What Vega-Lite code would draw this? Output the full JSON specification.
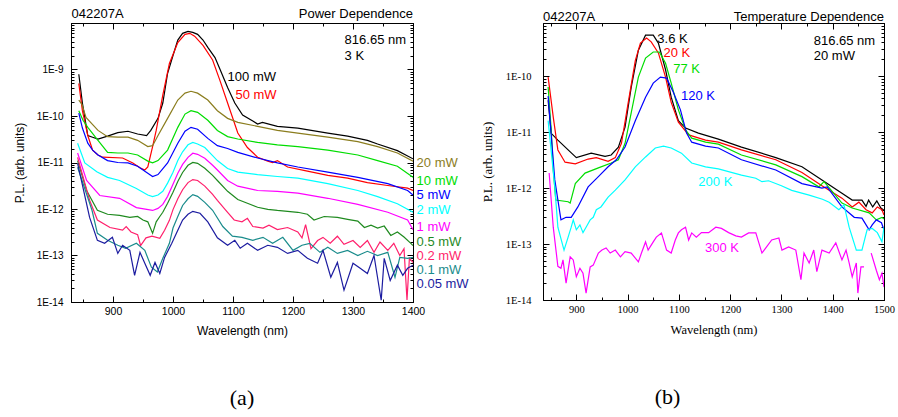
{
"$schema": "https://vega.github.io/schema/vega-lite/v6.json",
"background": "white",
"padding": {"left": 12, "top": 7, "right": 5, "bottom": 5},
"bounds": "flush",
"spacing": 130,
"resolve": {"scale": {"color": "independent"}},
"config": {"view": {"stroke": "black", "strokeWidth": 1}, "axis": {"grid": false, "domainColor": "black", "tickColor": "black", "labelColor": "black", "titleColor": "black", "labelOverlap": false, "labelFlush": false}},
"datasets": {
"pa": [
{"s":"100 mW","x":843,"y":7.9e-10},{"s":"100 mW","x":849,"y":1.9e-10},{"s":"100 mW","x":858,"y":3.8e-11},{"s":"100 mW","x":866,"y":3.5e-11},{"s":"100 mW","x":875,"y":3.2e-11},{"s":"100 mW","x":891,"y":3.7e-11},{"s":"100 mW","x":908,"y":4.4e-11},{"s":"100 mW","x":925,"y":4.7e-11},{"s":"100 mW","x":941,"y":4.1e-11},{"s":"100 mW","x":956,"y":3.8e-11},{"s":"100 mW","x":963,"y":4.9e-11},{"s":"100 mW","x":975,"y":8.9e-11},{"s":"100 mW","x":983,"y":1.9e-10},{"s":"100 mW","x":991,"y":8.3e-10},{"s":"100 mW","x":1000,"y":2.0e-9},{"s":"100 mW","x":1008,"y":4.3e-9},{"s":"100 mW","x":1016,"y":6.0e-9},{"s":"100 mW","x":1025,"y":6.6e-9},{"s":"100 mW","x":1033,"y":6.3e-9},{"s":"100 mW","x":1041,"y":5.7e-9},{"s":"100 mW","x":1050,"y":4.3e-9},{"s":"100 mW","x":1058,"y":3.0e-9},{"s":"100 mW","x":1070,"y":1.8e-9},{"s":"100 mW","x":1079,"y":9.6e-10},{"s":"100 mW","x":1091,"y":4.1e-10},{"s":"100 mW","x":1103,"y":1.9e-10},{"s":"100 mW","x":1116,"y":1.05e-10},{"s":"100 mW","x":1133,"y":7.8e-11},{"s":"100 mW","x":1141,"y":6.7e-11},{"s":"100 mW","x":1149,"y":7.3e-11},{"s":"100 mW","x":1174,"y":6.0e-11},{"s":"100 mW","x":1208,"y":5.5e-11},{"s":"100 mW","x":1258,"y":4.3e-11},{"s":"100 mW","x":1291,"y":3.7e-11},{"s":"100 mW","x":1324,"y":3.0e-11},{"s":"100 mW","x":1341,"y":2.5e-11},{"s":"100 mW","x":1374,"y":1.8e-11},{"s":"100 mW","x":1400,"y":1.2e-11},
{"s":"50 mW","x":843,"y":5.0e-10},{"s":"50 mW","x":849,"y":1.3e-10},{"s":"50 mW","x":858,"y":3.8e-11},{"s":"50 mW","x":866,"y":1.85e-11},{"s":"50 mW","x":875,"y":1.45e-11},{"s":"50 mW","x":883,"y":1.3e-11},{"s":"50 mW","x":916,"y":1.25e-11},{"s":"50 mW","x":933,"y":9.8e-12},{"s":"50 mW","x":945,"y":7.7e-12},{"s":"50 mW","x":953,"y":6.9e-12},{"s":"50 mW","x":958,"y":8.0e-12},{"s":"50 mW","x":966,"y":2.2e-11},{"s":"50 mW","x":972,"y":4.9e-11},{"s":"50 mW","x":983,"y":2.8e-10},{"s":"50 mW","x":994,"y":1.35e-9},{"s":"50 mW","x":1008,"y":3.8e-9},{"s":"50 mW","x":1020,"y":5.7e-9},{"s":"50 mW","x":1028,"y":6.0e-9},{"s":"50 mW","x":1036,"y":5.2e-9},{"s":"50 mW","x":1050,"y":3.3e-9},{"s":"50 mW","x":1066,"y":1.6e-9},{"s":"50 mW","x":1078,"y":5.9e-10},{"s":"50 mW","x":1091,"y":1.9e-10},{"s":"50 mW","x":1108,"y":4.3e-11},{"s":"50 mW","x":1124,"y":2.1e-11},{"s":"50 mW","x":1141,"y":1.3e-11},{"s":"50 mW","x":1158,"y":1.07e-11},{"s":"50 mW","x":1166,"y":1.0e-11},{"s":"50 mW","x":1174,"y":1.1e-11},{"s":"50 mW","x":1191,"y":8.0e-12},{"s":"50 mW","x":1224,"y":6.5e-12},{"s":"50 mW","x":1258,"y":5.3e-12},{"s":"50 mW","x":1291,"y":4.6e-12},{"s":"50 mW","x":1324,"y":3.7e-12},{"s":"50 mW","x":1358,"y":3.2e-12},{"s":"50 mW","x":1391,"y":2.8e-12},{"s":"50 mW","x":1400,"y":2.5e-12},
{"s":"20 mW","x":843,"y":2.2e-10},{"s":"20 mW","x":848,"y":1.8e-10},{"s":"20 mW","x":855,"y":9.3e-11},{"s":"20 mW","x":875,"y":4.9e-11},{"s":"20 mW","x":891,"y":3.6e-11},{"s":"20 mW","x":908,"y":3.5e-11},{"s":"20 mW","x":925,"y":3.5e-11},{"s":"20 mW","x":941,"y":3.0e-11},{"s":"20 mW","x":958,"y":2.2e-11},{"s":"20 mW","x":966,"y":2.3e-11},{"s":"20 mW","x":975,"y":3.8e-11},{"s":"20 mW","x":991,"y":8.9e-11},{"s":"20 mW","x":1008,"y":2.2e-10},{"s":"20 mW","x":1020,"y":3.1e-10},{"s":"20 mW","x":1030,"y":3.4e-10},{"s":"20 mW","x":1041,"y":3.1e-10},{"s":"20 mW","x":1058,"y":2.2e-10},{"s":"20 mW","x":1074,"y":1.3e-10},{"s":"20 mW","x":1091,"y":8.9e-11},{"s":"20 mW","x":1108,"y":7.3e-11},{"s":"20 mW","x":1141,"y":6.0e-11},{"s":"20 mW","x":1174,"y":4.9e-11},{"s":"20 mW","x":1208,"y":4.3e-11},{"s":"20 mW","x":1258,"y":3.5e-11},{"s":"20 mW","x":1308,"y":2.8e-11},{"s":"20 mW","x":1341,"y":2.2e-11},{"s":"20 mW","x":1374,"y":1.6e-11},{"s":"20 mW","x":1400,"y":1.07e-11},
{"s":"10 mW","x":843,"y":1.3e-10},{"s":"10 mW","x":850,"y":8.1e-11},{"s":"10 mW","x":858,"y":5.7e-11},{"s":"10 mW","x":875,"y":3.0e-11},{"s":"10 mW","x":891,"y":1.65e-11},{"s":"10 mW","x":908,"y":1.6e-11},{"s":"10 mW","x":925,"y":1.6e-11},{"s":"10 mW","x":941,"y":1.45e-11},{"s":"10 mW","x":958,"y":1.07e-11},{"s":"10 mW","x":966,"y":9.8e-12},{"s":"10 mW","x":975,"y":1.1e-11},{"s":"10 mW","x":991,"y":1.85e-11},{"s":"10 mW","x":1008,"y":5.7e-11},{"s":"10 mW","x":1020,"y":1.1e-10},{"s":"10 mW","x":1030,"y":1.3e-10},{"s":"10 mW","x":1041,"y":1.2e-10},{"s":"10 mW","x":1058,"y":8.1e-11},{"s":"10 mW","x":1074,"y":4.9e-11},{"s":"10 mW","x":1091,"y":3.6e-11},{"s":"10 mW","x":1108,"y":3.2e-11},{"s":"10 mW","x":1141,"y":2.7e-11},{"s":"10 mW","x":1174,"y":2.4e-11},{"s":"10 mW","x":1208,"y":2.2e-11},{"s":"10 mW","x":1258,"y":1.85e-11},{"s":"10 mW","x":1308,"y":1.45e-11},{"s":"10 mW","x":1341,"y":1.1e-11},{"s":"10 mW","x":1374,"y":8.3e-12},{"s":"10 mW","x":1400,"y":4.8e-12},
{"s":"5 mW","x":843,"y":1.15e-10},{"s":"5 mW","x":849,"y":5.5e-11},{"s":"5 mW","x":858,"y":2.6e-11},{"s":"5 mW","x":866,"y":1.85e-11},{"s":"5 mW","x":875,"y":1.45e-11},{"s":"5 mW","x":891,"y":1.1e-11},{"s":"5 mW","x":908,"y":1.0e-11},{"s":"5 mW","x":925,"y":9.8e-12},{"s":"5 mW","x":941,"y":8.3e-12},{"s":"5 mW","x":958,"y":5.9e-12},{"s":"5 mW","x":966,"y":5.0e-12},{"s":"5 mW","x":975,"y":5.5e-12},{"s":"5 mW","x":991,"y":9.8e-12},{"s":"5 mW","x":1008,"y":2.6e-11},{"s":"5 mW","x":1020,"y":4.7e-11},{"s":"5 mW","x":1030,"y":5.7e-11},{"s":"5 mW","x":1041,"y":5.2e-11},{"s":"5 mW","x":1058,"y":3.3e-11},{"s":"5 mW","x":1074,"y":2.3e-11},{"s":"5 mW","x":1091,"y":2.0e-11},{"s":"5 mW","x":1108,"y":1.65e-11},{"s":"5 mW","x":1141,"y":1.25e-11},{"s":"5 mW","x":1174,"y":9.8e-12},{"s":"5 mW","x":1208,"y":8.0e-12},{"s":"5 mW","x":1258,"y":6.2e-12},{"s":"5 mW","x":1308,"y":4.8e-12},{"s":"5 mW","x":1358,"y":3.5e-12},{"s":"5 mW","x":1391,"y":2.5e-12},{"s":"5 mW","x":1400,"y":2.0e-12},
{"s":"2 mW","x":841,"y":2.6e-11},{"s":"2 mW","x":853,"y":9.8e-12},{"s":"2 mW","x":873,"y":6.3e-12},{"s":"2 mW","x":891,"y":4.8e-12},{"s":"2 mW","x":911,"y":4.1e-12},{"s":"2 mW","x":939,"y":2.75e-12},{"s":"2 mW","x":958,"y":2.0e-12},{"s":"2 mW","x":966,"y":1.85e-12},{"s":"2 mW","x":975,"y":2.0e-12},{"s":"2 mW","x":983,"y":2.4e-12},{"s":"2 mW","x":991,"y":3.6e-12},{"s":"2 mW","x":1000,"y":6.2e-12},{"s":"2 mW","x":1008,"y":1.1e-11},{"s":"2 mW","x":1016,"y":1.7e-11},{"s":"2 mW","x":1025,"y":2.4e-11},{"s":"2 mW","x":1033,"y":2.7e-11},{"s":"2 mW","x":1041,"y":2.5e-11},{"s":"2 mW","x":1053,"y":2.1e-11},{"s":"2 mW","x":1066,"y":1.4e-11},{"s":"2 mW","x":1074,"y":1.1e-11},{"s":"2 mW","x":1091,"y":7.4e-12},{"s":"2 mW","x":1108,"y":6.2e-12},{"s":"2 mW","x":1141,"y":5.5e-12},{"s":"2 mW","x":1174,"y":5.0e-12},{"s":"2 mW","x":1208,"y":4.6e-12},{"s":"2 mW","x":1258,"y":3.5e-12},{"s":"2 mW","x":1308,"y":2.5e-12},{"s":"2 mW","x":1341,"y":1.85e-12},{"s":"2 mW","x":1374,"y":1.3e-12},{"s":"2 mW","x":1400,"y":8.5e-13},
{"s":"1 mW","x":841,"y":1.6e-11},{"s":"1 mW","x":856,"y":4.1e-12},{"s":"1 mW","x":878,"y":1.95e-12},{"s":"1 mW","x":911,"y":1.7e-12},{"s":"1 mW","x":939,"y":1.07e-12},{"s":"1 mW","x":966,"y":9.3e-13},{"s":"1 mW","x":975,"y":1.03e-12},{"s":"1 mW","x":983,"y":1.26e-12},{"s":"1 mW","x":991,"y":1.87e-12},{"s":"1 mW","x":1000,"y":3.4e-12},{"s":"1 mW","x":1008,"y":5.9e-12},{"s":"1 mW","x":1016,"y":9.1e-12},{"s":"1 mW","x":1025,"y":1.29e-11},{"s":"1 mW","x":1033,"y":1.58e-11},{"s":"1 mW","x":1041,"y":1.5e-11},{"s":"1 mW","x":1053,"y":1.23e-11},{"s":"1 mW","x":1066,"y":8.7e-12},{"s":"1 mW","x":1074,"y":6.9e-12},{"s":"1 mW","x":1091,"y":4.1e-12},{"s":"1 mW","x":1108,"y":3.1e-12},{"s":"1 mW","x":1141,"y":2.5e-12},{"s":"1 mW","x":1174,"y":2.4e-12},{"s":"1 mW","x":1208,"y":2.2e-12},{"s":"1 mW","x":1258,"y":1.7e-12},{"s":"1 mW","x":1308,"y":1.26e-12},{"s":"1 mW","x":1358,"y":8.5e-13},{"s":"1 mW","x":1391,"y":5.8e-13},{"s":"1 mW","x":1400,"y":3.6e-13},
{"s":"0.5 mW","x":841,"y":1.1e-11},{"s":"0.5 mW","x":856,"y":2.5e-12},{"s":"0.5 mW","x":874,"y":9.4e-13},{"s":"0.5 mW","x":891,"y":7.7e-13},{"s":"0.5 mW","x":911,"y":7.3e-13},{"s":"0.5 mW","x":928,"y":6.6e-13},{"s":"0.5 mW","x":941,"y":6.9e-13},{"s":"0.5 mW","x":950,"y":5.8e-13},{"s":"0.5 mW","x":958,"y":5.3e-13},{"s":"0.5 mW","x":966,"y":3.0e-13},{"s":"0.5 mW","x":972,"y":5.3e-13},{"s":"0.5 mW","x":978,"y":6.9e-13},{"s":"0.5 mW","x":983,"y":8.5e-13},{"s":"0.5 mW","x":991,"y":1.33e-12},{"s":"0.5 mW","x":1000,"y":2.3e-12},{"s":"0.5 mW","x":1008,"y":3.9e-12},{"s":"0.5 mW","x":1016,"y":6.1e-12},{"s":"0.5 mW","x":1025,"y":8.7e-12},{"s":"0.5 mW","x":1033,"y":1.0e-11},{"s":"0.5 mW","x":1041,"y":9.6e-12},{"s":"0.5 mW","x":1053,"y":7.5e-12},{"s":"0.5 mW","x":1066,"y":5.3e-12},{"s":"0.5 mW","x":1074,"y":4.1e-12},{"s":"0.5 mW","x":1091,"y":2.4e-12},{"s":"0.5 mW","x":1108,"y":1.6e-12},{"s":"0.5 mW","x":1124,"y":1.33e-12},{"s":"0.5 mW","x":1141,"y":1.09e-12},{"s":"0.5 mW","x":1158,"y":9.8e-13},{"s":"0.5 mW","x":1174,"y":9.3e-13},{"s":"0.5 mW","x":1191,"y":8.9e-13},{"s":"0.5 mW","x":1208,"y":8.5e-13},{"s":"0.5 mW","x":1224,"y":7.7e-13},{"s":"0.5 mW","x":1235,"y":5.8e-13},{"s":"0.5 mW","x":1252,"y":6.9e-13},{"s":"0.5 mW","x":1274,"y":6.6e-13},{"s":"0.5 mW","x":1291,"y":6.0e-13},{"s":"0.5 mW","x":1308,"y":5.5e-13},{"s":"0.5 mW","x":1319,"y":4.0e-13},{"s":"0.5 mW","x":1330,"y":4.5e-13},{"s":"0.5 mW","x":1341,"y":3.9e-13},{"s":"0.5 mW","x":1352,"y":4.3e-13},{"s":"0.5 mW","x":1363,"y":2.7e-13},{"s":"0.5 mW","x":1374,"y":3.2e-13},{"s":"0.5 mW","x":1385,"y":2.5e-13},{"s":"0.5 mW","x":1396,"y":1.85e-13},{"s":"0.5 mW","x":1400,"y":1.64e-13},
{"s":"0.2 mW","x":841,"y":1.29e-11},{"s":"0.2 mW","x":861,"y":1.54e-12},{"s":"0.2 mW","x":874,"y":5.8e-13},{"s":"0.2 mW","x":895,"y":4.0e-13},{"s":"0.2 mW","x":916,"y":3.5e-13},{"s":"0.2 mW","x":922,"y":4.2e-13},{"s":"0.2 mW","x":930,"y":3.2e-13},{"s":"0.2 mW","x":941,"y":2.8e-13},{"s":"0.2 mW","x":946,"y":1.64e-13},{"s":"0.2 mW","x":955,"y":2.4e-13},{"s":"0.2 mW","x":965,"y":2.6e-13},{"s":"0.2 mW","x":978,"y":2.34e-13},{"s":"0.2 mW","x":986,"y":3.5e-13},{"s":"0.2 mW","x":994,"y":5.7e-13},{"s":"0.2 mW","x":1000,"y":9.7e-13},{"s":"0.2 mW","x":1008,"y":1.66e-12},{"s":"0.2 mW","x":1016,"y":2.6e-12},{"s":"0.2 mW","x":1025,"y":3.7e-12},{"s":"0.2 mW","x":1033,"y":4.3e-12},{"s":"0.2 mW","x":1041,"y":4.1e-12},{"s":"0.2 mW","x":1053,"y":3.1e-12},{"s":"0.2 mW","x":1066,"y":2.07e-12},{"s":"0.2 mW","x":1074,"y":1.54e-12},{"s":"0.2 mW","x":1091,"y":8.5e-13},{"s":"0.2 mW","x":1102,"y":5.8e-13},{"s":"0.2 mW","x":1115,"y":5.3e-13},{"s":"0.2 mW","x":1124,"y":6.3e-13},{"s":"0.2 mW","x":1133,"y":4.2e-13},{"s":"0.2 mW","x":1150,"y":3.9e-13},{"s":"0.2 mW","x":1160,"y":4.5e-13},{"s":"0.2 mW","x":1174,"y":3.6e-13},{"s":"0.2 mW","x":1191,"y":4.0e-13},{"s":"0.2 mW","x":1208,"y":3.2e-13},{"s":"0.2 mW","x":1215,"y":2.4e-13},{"s":"0.2 mW","x":1221,"y":4.6e-13},{"s":"0.2 mW","x":1230,"y":1.4e-13},{"s":"0.2 mW","x":1241,"y":2.1e-13},{"s":"0.2 mW","x":1250,"y":2.45e-13},{"s":"0.2 mW","x":1262,"y":1.83e-13},{"s":"0.2 mW","x":1274,"y":2.6e-13},{"s":"0.2 mW","x":1285,"y":1.74e-13},{"s":"0.2 mW","x":1300,"y":2.1e-13},{"s":"0.2 mW","x":1312,"y":1.5e-13},{"s":"0.2 mW","x":1324,"y":2.1e-13},{"s":"0.2 mW","x":1335,"y":1.17e-13},{"s":"0.2 mW","x":1345,"y":1.95e-13},{"s":"0.2 mW","x":1358,"y":1.29e-13},{"s":"0.2 mW","x":1368,"y":1.83e-13},{"s":"0.2 mW","x":1378,"y":1.0e-13},{"s":"0.2 mW","x":1385,"y":1.4e-13},{"s":"0.2 mW","x":1390,"y":1.1e-14},{"s":"0.2 mW","x":1394,"y":8.7e-14},{"s":"0.2 mW","x":1400,"y":7.1e-14},
{"s":"0.1 mW","x":841,"y":7.9e-12},{"s":"0.1 mW","x":865,"y":9.4e-13},{"s":"0.1 mW","x":874,"y":3.0e-13},{"s":"0.1 mW","x":891,"y":2.12e-13},{"s":"0.1 mW","x":908,"y":1.66e-13},{"s":"0.1 mW","x":921,"y":1.43e-13},{"s":"0.1 mW","x":939,"y":1.83e-13},{"s":"0.1 mW","x":953,"y":1.29e-13},{"s":"0.1 mW","x":964,"y":5.6e-14},{"s":"0.1 mW","x":974,"y":4.4e-14},{"s":"0.1 mW","x":983,"y":8.7e-14},{"s":"0.1 mW","x":994,"y":1.83e-13},{"s":"0.1 mW","x":1000,"y":3.9e-13},{"s":"0.1 mW","x":1008,"y":6.9e-13},{"s":"0.1 mW","x":1016,"y":1.19e-12},{"s":"0.1 mW","x":1025,"y":1.66e-12},{"s":"0.1 mW","x":1033,"y":2.04e-12},{"s":"0.1 mW","x":1041,"y":1.87e-12},{"s":"0.1 mW","x":1053,"y":1.39e-12},{"s":"0.1 mW","x":1066,"y":9.4e-13},{"s":"0.1 mW","x":1083,"y":4.2e-13},{"s":"0.1 mW","x":1099,"y":2.6e-13},{"s":"0.1 mW","x":1115,"y":2.46e-13},{"s":"0.1 mW","x":1133,"y":2.12e-13},{"s":"0.1 mW","x":1150,"y":2.46e-13},{"s":"0.1 mW","x":1166,"y":1.83e-13},{"s":"0.1 mW","x":1183,"y":2.46e-13},{"s":"0.1 mW","x":1200,"y":1.29e-13},{"s":"0.1 mW","x":1215,"y":1.66e-13},{"s":"0.1 mW","x":1228,"y":1.83e-13},{"s":"0.1 mW","x":1245,"y":1.17e-13},{"s":"0.1 mW","x":1258,"y":1.5e-13},{"s":"0.1 mW","x":1274,"y":1.11e-13},{"s":"0.1 mW","x":1291,"y":1.29e-13},{"s":"0.1 mW","x":1308,"y":1.0e-13},{"s":"0.1 mW","x":1324,"y":1.23e-13},{"s":"0.1 mW","x":1341,"y":1.0e-13},{"s":"0.1 mW","x":1358,"y":1.17e-13},{"s":"0.1 mW","x":1370,"y":3.4e-14},{"s":"0.1 mW","x":1378,"y":9.1e-14},{"s":"0.1 mW","x":1391,"y":8.7e-14},{"s":"0.1 mW","x":1400,"y":9.1e-14},
{"s":"0.05 mW","x":841,"y":9.6e-12},{"s":"0.05 mW","x":861,"y":6.6e-13},{"s":"0.05 mW","x":874,"y":2.12e-13},{"s":"0.05 mW","x":886,"y":1.83e-13},{"s":"0.05 mW","x":899,"y":2.46e-13},{"s":"0.05 mW","x":908,"y":1.11e-13},{"s":"0.05 mW","x":916,"y":1.66e-13},{"s":"0.05 mW","x":928,"y":1.29e-13},{"s":"0.05 mW","x":936,"y":3.75e-14},{"s":"0.05 mW","x":945,"y":1.17e-13},{"s":"0.05 mW","x":953,"y":6.8e-14},{"s":"0.05 mW","x":962,"y":3.75e-14},{"s":"0.05 mW","x":970,"y":7.1e-14},{"s":"0.05 mW","x":978,"y":4.1e-14},{"s":"0.05 mW","x":986,"y":9.1e-14},{"s":"0.05 mW","x":998,"y":1.83e-13},{"s":"0.05 mW","x":1008,"y":3.5e-13},{"s":"0.05 mW","x":1016,"y":5.8e-13},{"s":"0.05 mW","x":1025,"y":7.7e-13},{"s":"0.05 mW","x":1033,"y":8.9e-13},{"s":"0.05 mW","x":1045,"y":8.1e-13},{"s":"0.05 mW","x":1058,"y":5.3e-13},{"s":"0.05 mW","x":1074,"y":2.4e-13},{"s":"0.05 mW","x":1091,"y":1.66e-13},{"s":"0.05 mW","x":1103,"y":2.12e-13},{"s":"0.05 mW","x":1112,"y":1.43e-13},{"s":"0.05 mW","x":1124,"y":1.83e-13},{"s":"0.05 mW","x":1141,"y":1.29e-13},{"s":"0.05 mW","x":1158,"y":1.66e-13},{"s":"0.05 mW","x":1174,"y":1.5e-13},{"s":"0.05 mW","x":1191,"y":1.11e-13},{"s":"0.05 mW","x":1208,"y":1.29e-13},{"s":"0.05 mW","x":1224,"y":8.7e-14},{"s":"0.05 mW","x":1241,"y":6.8e-14},{"s":"0.05 mW","x":1250,"y":1.29e-13},{"s":"0.05 mW","x":1263,"y":3.4e-14},{"s":"0.05 mW","x":1274,"y":7.1e-14},{"s":"0.05 mW","x":1285,"y":1.8e-14},{"s":"0.05 mW","x":1300,"y":6.8e-14},{"s":"0.05 mW","x":1312,"y":5.3e-14},{"s":"0.05 mW","x":1324,"y":4.1e-14},{"s":"0.05 mW","x":1335,"y":1.0e-13},{"s":"0.05 mW","x":1347,"y":1.09e-14},{"s":"0.05 mW","x":1352,"y":8.7e-14},{"s":"0.05 mW","x":1362,"y":2.9e-14},{"s":"0.05 mW","x":1374,"y":6.2e-14},{"s":"0.05 mW","x":1383,"y":3.75e-14},{"s":"0.05 mW","x":1391,"y":5.3e-14},{"s":"0.05 mW","x":1400,"y":6.2e-14}
],
"la": [
{"s":"100 mW","x":1091,"y":6.8e-10},{"s":"50 mW","x":1104,"y":2.8e-10},
{"s":"20 mW","x":1406,"y":9.6e-12},{"s":"10 mW","x":1406,"y":4.1e-12},{"s":"5 mW","x":1406,"y":1.97e-12},{"s":"2 mW","x":1406,"y":9.4e-13},{"s":"1 mW","x":1406,"y":4.2e-13},{"s":"0.5 mW","x":1406,"y":2.0e-13},{"s":"0.2 mW","x":1406,"y":9.6e-14},{"s":"0.1 mW","x":1406,"y":4.8e-14},{"s":"0.05 mW","x":1406,"y":2.4e-14}
],
"na": [{"t":"816.65 nm","x":1286,"y":4.25e-9},{"t":"3 K","x":1286,"y":1.92e-9},{"t":"042207A","x":831,"y":1.54e-8}],
"ra": [{"t":"Power Dependence","x":1400,"y":1.54e-8}],
"pb": [
{"s":"3.6 K","x":845,"y":3.7e-11},{"s":"3.6 K","x":851,"y":9.5e-12},{"s":"3.6 K","x":864,"y":7.2e-12},{"s":"3.6 K","x":884,"y":4.8e-12},{"s":"3.6 K","x":900,"y":3.5e-12},{"s":"3.6 K","x":929,"y":4.2e-12},{"s":"3.6 K","x":956,"y":3.7e-12},{"s":"3.6 K","x":968,"y":3.9e-12},{"s":"3.6 K","x":982,"y":5.4e-12},{"s":"3.6 K","x":995,"y":1.23e-11},{"s":"3.6 K","x":1007,"y":6.3e-11},{"s":"3.6 K","x":1021,"y":2.9e-10},{"s":"3.6 K","x":1035,"y":5.4e-10},{"s":"3.6 K","x":1050,"y":5.4e-10},{"s":"3.6 K","x":1060,"y":3.9e-10},{"s":"3.6 K","x":1074,"y":1.3e-10},{"s":"3.6 K","x":1085,"y":4.2e-11},{"s":"3.6 K","x":1099,"y":1.6e-11},{"s":"3.6 K","x":1113,"y":1.18e-11},{"s":"3.6 K","x":1138,"y":9.6e-12},{"s":"3.6 K","x":1177,"y":7.5e-12},{"s":"3.6 K","x":1222,"y":5.4e-12},{"s":"3.6 K","x":1289,"y":3.5e-12},{"s":"3.6 K","x":1340,"y":2.4e-12},{"s":"3.6 K","x":1379,"y":1.4e-12},{"s":"3.6 K","x":1418,"y":8.1e-13},{"s":"3.6 K","x":1438,"y":6.1e-13},{"s":"3.6 K","x":1457,"y":6.1e-13},{"s":"3.6 K","x":1465,"y":4.7e-13},{"s":"3.6 K","x":1470,"y":6.1e-13},{"s":"3.6 K","x":1478,"y":4.6e-13},{"s":"3.6 K","x":1486,"y":5.9e-13},{"s":"3.6 K","x":1494,"y":4.4e-13},{"s":"3.6 K","x":1500,"y":4.0e-13},
{"s":"20 K","x":845,"y":9.6e-11},{"s":"20 K","x":855,"y":1.85e-11},{"s":"20 K","x":864,"y":4.8e-12},{"s":"20 K","x":878,"y":2.9e-12},{"s":"20 K","x":898,"y":2.7e-12},{"s":"20 K","x":923,"y":3.3e-12},{"s":"20 K","x":939,"y":3.5e-12},{"s":"20 K","x":962,"y":3.0e-12},{"s":"20 K","x":976,"y":3.5e-12},{"s":"20 K","x":988,"y":6.3e-12},{"s":"20 K","x":1001,"y":3.3e-11},{"s":"20 K","x":1015,"y":1.9e-10},{"s":"20 K","x":1025,"y":3.9e-10},{"s":"20 K","x":1037,"y":4.8e-10},{"s":"20 K","x":1046,"y":4.1e-10},{"s":"20 K","x":1060,"y":2.6e-10},{"s":"20 K","x":1074,"y":9.6e-11},{"s":"20 K","x":1085,"y":3.4e-11},{"s":"20 K","x":1099,"y":1.5e-11},{"s":"20 K","x":1119,"y":8.9e-12},{"s":"20 K","x":1152,"y":7.2e-12},{"s":"20 K","x":1177,"y":6.6e-12},{"s":"20 K","x":1222,"y":4.8e-12},{"s":"20 K","x":1289,"y":3.2e-12},{"s":"20 K","x":1340,"y":1.9e-12},{"s":"20 K","x":1379,"y":1.1e-12},{"s":"20 K","x":1418,"y":6.6e-13},{"s":"20 K","x":1438,"y":4.6e-13},{"s":"20 K","x":1451,"y":5.6e-13},{"s":"20 K","x":1465,"y":4.1e-13},{"s":"20 K","x":1477,"y":3.6e-13},{"s":"20 K","x":1487,"y":4.6e-13},{"s":"20 K","x":1496,"y":4.1e-13},{"s":"20 K","x":1500,"y":3.3e-13},
{"s":"77 K","x":845,"y":6.4e-11},{"s":"77 K","x":851,"y":1.1e-11},{"s":"77 K","x":855,"y":2.1e-12},{"s":"77 K","x":860,"y":6.1e-13},{"s":"77 K","x":884,"y":5.7e-13},{"s":"77 K","x":888,"y":5.4e-13},{"s":"77 K","x":898,"y":1.2e-12},{"s":"77 K","x":917,"y":1.85e-12},{"s":"77 K","x":943,"y":2.3e-12},{"s":"77 K","x":968,"y":2.8e-12},{"s":"77 K","x":982,"y":3.2e-12},{"s":"77 K","x":995,"y":6.3e-12},{"s":"77 K","x":1007,"y":2.2e-11},{"s":"77 K","x":1021,"y":9.6e-11},{"s":"77 K","x":1035,"y":2.1e-10},{"s":"77 K","x":1050,"y":2.7e-10},{"s":"77 K","x":1062,"y":2.7e-10},{"s":"77 K","x":1074,"y":1.7e-10},{"s":"77 K","x":1085,"y":7.5e-11},{"s":"77 K","x":1099,"y":2.5e-11},{"s":"77 K","x":1113,"y":1.1e-11},{"s":"77 K","x":1125,"y":7.8e-12},{"s":"77 K","x":1152,"y":6.6e-12},{"s":"77 K","x":1177,"y":6.1e-12},{"s":"77 K","x":1222,"y":3.9e-12},{"s":"77 K","x":1289,"y":2.6e-12},{"s":"77 K","x":1340,"y":1.6e-12},{"s":"77 K","x":1373,"y":1.05e-12},{"s":"77 K","x":1383,"y":1.3e-12},{"s":"77 K","x":1418,"y":5.4e-13},{"s":"77 K","x":1438,"y":4.4e-13},{"s":"77 K","x":1471,"y":3.6e-13},{"s":"77 K","x":1485,"y":2.7e-13},{"s":"77 K","x":1496,"y":3.0e-13},{"s":"77 K","x":1500,"y":2.8e-13},
{"s":"120 K","x":845,"y":4.4e-11},{"s":"120 K","x":858,"y":1.4e-12},{"s":"120 K","x":870,"y":2.7e-13},{"s":"120 K","x":880,"y":3.0e-13},{"s":"120 K","x":890,"y":3.0e-13},{"s":"120 K","x":903,"y":4.6e-13},{"s":"120 K","x":923,"y":1.05e-12},{"s":"120 K","x":943,"y":1.6e-12},{"s":"120 K","x":962,"y":2.4e-12},{"s":"120 K","x":978,"y":3.2e-12},{"s":"120 K","x":995,"y":5.4e-12},{"s":"120 K","x":1015,"y":1.6e-11},{"s":"120 K","x":1035,"y":4.2e-11},{"s":"120 K","x":1050,"y":7.5e-11},{"s":"120 K","x":1064,"y":9.6e-11},{"s":"120 K","x":1076,"y":9.2e-11},{"s":"120 K","x":1089,"y":5.2e-11},{"s":"120 K","x":1103,"y":2.5e-11},{"s":"120 K","x":1115,"y":9.6e-12},{"s":"120 K","x":1125,"y":6.6e-12},{"s":"120 K","x":1152,"y":5.6e-12},{"s":"120 K","x":1177,"y":5.2e-12},{"s":"120 K","x":1222,"y":3.2e-12},{"s":"120 K","x":1289,"y":2.1e-12},{"s":"120 K","x":1340,"y":1.2e-12},{"s":"120 K","x":1379,"y":1.0e-12},{"s":"120 K","x":1389,"y":1.05e-12},{"s":"120 K","x":1418,"y":4.6e-13},{"s":"120 K","x":1442,"y":3.0e-13},{"s":"120 K","x":1457,"y":2.9e-13},{"s":"120 K","x":1471,"y":1.8e-13},{"s":"120 K","x":1477,"y":2.2e-13},{"s":"120 K","x":1485,"y":2.7e-13},{"s":"120 K","x":1495,"y":2.4e-13},{"s":"120 K","x":1500,"y":1.8e-13},
{"s":"200 K","x":845,"y":1.6e-11},{"s":"200 K","x":858,"y":1.05e-12},{"s":"200 K","x":864,"y":2.0e-13},{"s":"200 K","x":876,"y":7.8e-14},{"s":"200 K","x":884,"y":1.33e-13},{"s":"200 K","x":890,"y":2.0e-13},{"s":"200 K","x":894,"y":2.7e-13},{"s":"200 K","x":900,"y":1.8e-13},{"s":"200 K","x":907,"y":2.2e-13},{"s":"200 K","x":913,"y":1.6e-13},{"s":"200 K","x":919,"y":2.0e-13},{"s":"200 K","x":927,"y":2.7e-13},{"s":"200 K","x":933,"y":3.0e-13},{"s":"200 K","x":939,"y":4.1e-13},{"s":"200 K","x":948,"y":4.6e-13},{"s":"200 K","x":962,"y":6.9e-13},{"s":"200 K","x":976,"y":9.2e-13},{"s":"200 K","x":995,"y":1.4e-12},{"s":"200 K","x":1015,"y":2.4e-12},{"s":"200 K","x":1035,"y":3.6e-12},{"s":"200 K","x":1054,"y":5.2e-12},{"s":"200 K","x":1070,"y":5.6e-12},{"s":"200 K","x":1085,"y":5.2e-12},{"s":"200 K","x":1105,"y":4.2e-12},{"s":"200 K","x":1125,"y":2.8e-12},{"s":"200 K","x":1152,"y":2.4e-12},{"s":"200 K","x":1177,"y":2.2e-12},{"s":"200 K","x":1222,"y":1.7e-12},{"s":"200 K","x":1250,"y":1.5e-12},{"s":"200 K","x":1262,"y":1.3e-12},{"s":"200 K","x":1275,"y":1.35e-12},{"s":"200 K","x":1300,"y":1.1e-12},{"s":"200 K","x":1320,"y":9.1e-13},{"s":"200 K","x":1354,"y":7.5e-13},{"s":"200 K","x":1380,"y":6.3e-13},{"s":"200 K","x":1393,"y":5.6e-13},{"s":"200 K","x":1412,"y":4.1e-13},{"s":"200 K","x":1422,"y":5.0e-13},{"s":"200 K","x":1432,"y":2.0e-13},{"s":"200 K","x":1446,"y":7.8e-14},{"s":"200 K","x":1457,"y":7.8e-14},{"s":"200 K","x":1467,"y":1.8e-13},{"s":"200 K","x":1477,"y":1.9e-13},{"s":"200 K","x":1487,"y":1.6e-13},{"s":"200 K","x":1496,"y":1.1e-13},{"s":"200 K","x":1500,"y":2.0e-13},
{"s":"300 K","x":847,"y":1.86e-12},{"s":"300 K","x":855,"y":2.0e-13},{"s":"300 K","x":864,"y":4.0e-14},{"s":"300 K","x":870,"y":3.7e-14},{"s":"300 K","x":874,"y":5.2e-14},{"s":"300 K","x":880,"y":2.0e-14},{"s":"300 K","x":888,"y":5.9e-14},{"s":"300 K","x":894,"y":5.2e-14},{"s":"300 K","x":900,"y":2.6e-14},{"s":"300 K","x":907,"y":3.7e-14},{"s":"300 K","x":913,"y":3.0e-14},{"s":"300 K","x":919,"y":1.33e-14},{"s":"300 K","x":927,"y":3.9e-14},{"s":"300 K","x":933,"y":4.2e-14},{"s":"300 K","x":943,"y":6.9e-14},{"s":"300 K","x":950,"y":7.8e-14},{"s":"300 K","x":958,"y":8.5e-14},{"s":"300 K","x":966,"y":6.9e-14},{"s":"300 K","x":976,"y":7.8e-14},{"s":"300 K","x":986,"y":5.9e-14},{"s":"300 K","x":995,"y":7.3e-14},{"s":"300 K","x":1007,"y":6.9e-14},{"s":"300 K","x":1021,"y":4.8e-14},{"s":"300 K","x":1027,"y":6.9e-14},{"s":"300 K","x":1035,"y":1.09e-13},{"s":"300 K","x":1040,"y":7.8e-14},{"s":"300 K","x":1050,"y":1.09e-13},{"s":"300 K","x":1056,"y":1.33e-13},{"s":"300 K","x":1066,"y":1.58e-13},{"s":"300 K","x":1076,"y":7.8e-14},{"s":"300 K","x":1085,"y":6.9e-14},{"s":"300 K","x":1093,"y":1.18e-13},{"s":"300 K","x":1099,"y":1.58e-13},{"s":"300 K","x":1105,"y":1.8e-13},{"s":"300 K","x":1113,"y":2.0e-13},{"s":"300 K","x":1119,"y":1.18e-13},{"s":"300 K","x":1125,"y":1.58e-13},{"s":"300 K","x":1134,"y":1.33e-13},{"s":"300 K","x":1144,"y":1.6e-13},{"s":"300 K","x":1158,"y":1.6e-13},{"s":"300 K","x":1172,"y":2.0e-13},{"s":"300 K","x":1183,"y":1.9e-13},{"s":"300 K","x":1197,"y":1.6e-13},{"s":"300 K","x":1211,"y":1.4e-13},{"s":"300 K","x":1222,"y":1.33e-13},{"s":"300 K","x":1236,"y":1.58e-13},{"s":"300 K","x":1250,"y":1.58e-13},{"s":"300 K","x":1262,"y":6.9e-14},{"s":"300 K","x":1271,"y":8.9e-14},{"s":"300 K","x":1281,"y":1.18e-13},{"s":"300 K","x":1295,"y":1.28e-13},{"s":"300 K","x":1301,"y":7.8e-14},{"s":"300 K","x":1314,"y":8.9e-14},{"s":"300 K","x":1328,"y":7.8e-14},{"s":"300 K","x":1338,"y":2.3e-14},{"s":"300 K","x":1344,"y":6.9e-14},{"s":"300 K","x":1354,"y":4.6e-14},{"s":"300 K","x":1363,"y":7.8e-14},{"s":"300 K","x":1369,"y":3.2e-14},{"s":"300 K","x":1379,"y":7.8e-14},{"s":"300 K","x":1393,"y":6.9e-14},{"s":"300 K","x":1406,"y":1.05e-13},{"s":"300 K","x":1418,"y":5.2e-14},{"s":"300 K","x":1426,"y":7.8e-14},{"s":"300 K","x":1432,"y":4.6e-14},{"s":"300 K","x":1438,"y":2.6e-14},{"s":"300 K","x":1446,"y":4.6e-14},{"s":"300 K","x":1449,"y":1.33e-14},{"s":"300 K","x":1455,"y":3.9e-14},{"s":"300 K","x":1461,"y":3.9e-14},
{"s":"300 K","g":1,"x":1475,"y":6.9e-14},{"s":"300 K","g":1,"x":1485,"y":3.4e-14},{"s":"300 K","g":1,"x":1491,"y":2.3e-14},{"s":"300 K","g":1,"x":1496,"y":3.0e-14},{"s":"300 K","g":1,"x":1500,"y":1.7e-14}
],
"lb": [{"s":"3.6 K","x":1058,"y":4.6e-10},{"s":"20 K","x":1070,"y":2.58e-10},{"s":"77 K","x":1089,"y":1.32e-10},{"s":"120 K","x":1104,"y":4.45e-11},{"s":"200 K","x":1138,"y":1.26e-12},{"s":"300 K","x":1151,"y":8.5e-14}],
"nb": [{"t":"816.65 nm","x":1363,"y":4.2e-10},{"t":"20 mW","x":1363,"y":2.3e-10},{"t":"042207A","x":835,"y":1.15e-9}],
"rb": [{"t":"Temperature Dependence","x":1500,"y":1.15e-9}]
},
"hconcat": [
{
"width": 342, "height": 279,
"title": {"text": "(a)", "orient": "bottom", "anchor": "middle", "offset": 51, "font": "Liberation Serif", "fontSize": 22, "fontWeight": "normal", "color": "black"},
"resolve": {"axis": {"x": "independent", "y": "independent"}},
"layer": [
{"data": {"name": "pa"},
 "mark": {"type": "line", "strokeWidth": 1.2, "clip": true},
 "encoding": {
  "x": {"field": "x", "type": "quantitative", "scale": {"domain": [830, 1400], "nice": false, "zero": false},
   "axis": {"orient": "bottom", "values": [850,900,950,1000,1050,1100,1150,1200,1250,1300,1350,1400], "labelExpr": "datum.value % 100 === 0 ? '' + datum.value : ''", "title": "Wavelength (nm)", "titleFont": "Liberation Sans", "titleFontSize": 12, "titleFontWeight": "normal", "labelFont": "Liberation Sans", "labelFontSize": 10.5, "tickSize": {"condition": {"test": "datum.value % 100 === 0", "value": -6}, "value": -3}, "labelPadding": 10, "titlePadding": 6}},
  "y": {"field": "y", "type": "quantitative", "scale": {"type": "log", "domain": [1e-14, 1e-8], "nice": false},
   "axis": {"orient": "left", "values": [1e-14,2e-14,3e-14,4e-14,5e-14,6e-14,7e-14,8e-14,9e-14,1e-13,2e-13,3e-13,4e-13,5e-13,6e-13,7e-13,8e-13,9e-13,1e-12,2e-12,3e-12,4e-12,5e-12,6e-12,7e-12,8e-12,9e-12,1e-11,2e-11,3e-11,4e-11,5e-11,6e-11,7e-11,8e-11,9e-11,1e-10,2e-10,3e-10,4e-10,5e-10,6e-10,7e-10,8e-10,9e-10,1e-9,2e-9,3e-9,4e-9,5e-9,6e-9,7e-9,8e-9,9e-9,1e-8],
    "labelExpr": "abs(log(datum.value)/LN10 - round(log(datum.value)/LN10)) < 0.01 && datum.value < 5e-9 ? '1E' + round(log(datum.value)/LN10) : ''",
    "title": "P.L. (arb. units)", "titleFont": "Liberation Sans", "titleFontSize": 12, "titleFontWeight": "normal", "labelFont": "Liberation Sans", "labelFontSize": 10,
    "tickSize": {"condition": {"test": "abs(log(datum.value)/LN10 - round(log(datum.value)/LN10)) < 0.01", "value": -6}, "value": -3}, "labelPadding": 14, "titlePadding": 10}},
  "color": {"field": "s", "type": "nominal", "scale": {"domain": ["100 mW","50 mW","20 mW","10 mW","5 mW","2 mW","1 mW","0.5 mW","0.2 mW","0.1 mW","0.05 mW"], "range": ["#000000","#ff0000","#8b7d1e","#00dd00","#0000ff","#00ffff","#ff00ff","#1f8a1f","#ff1f6b","#1a8c8c","#1c1ca0"]}, "legend": null}
 }},
{"data": {"name": "la"},
 "mark": {"type": "text", "align": "left", "baseline": "middle", "font": "Liberation Sans", "fontSize": 13},
 "encoding": {
  "x": {"field": "x", "type": "quantitative", "scale": {"domain": [830, 1400], "nice": false, "zero": false}, "axis": null},
  "y": {"field": "y", "type": "quantitative", "scale": {"type": "log", "domain": [1e-14, 1e-8], "nice": false}, "axis": null},
  "text": {"field": "s"},
  "color": {"field": "s", "type": "nominal", "scale": {"domain": ["100 mW","50 mW","20 mW","10 mW","5 mW","2 mW","1 mW","0.5 mW","0.2 mW","0.1 mW","0.05 mW"], "range": ["#000000","#ff0000","#8b7d1e","#00dd00","#0000ff","#00ffff","#ff00ff","#1f8a1f","#ff1f6b","#1a8c8c","#1c1ca0"]}, "legend": null}
 }},
{"data": {"name": "na"},
 "mark": {"type": "text", "align": "left", "baseline": "middle", "font": "Liberation Sans", "fontSize": 13, "color": "black"},
 "encoding": {
  "x": {"field": "x", "type": "quantitative", "scale": {"domain": [830, 1400], "nice": false, "zero": false},
   "axis": {"orient": "top", "values": [850,900,950,1000,1050,1100,1150,1200,1250,1300,1350,1400], "labels": false, "title": null, "tickSize": {"condition": {"test": "datum.value % 100 === 0", "value": -6}, "value": -3}}},
  "y": {"field": "y", "type": "quantitative", "scale": {"type": "log", "domain": [1e-14, 1e-8], "nice": false},
   "axis": {"orient": "right", "values": [1e-14,2e-14,3e-14,4e-14,5e-14,6e-14,7e-14,8e-14,9e-14,1e-13,2e-13,3e-13,4e-13,5e-13,6e-13,7e-13,8e-13,9e-13,1e-12,2e-12,3e-12,4e-12,5e-12,6e-12,7e-12,8e-12,9e-12,1e-11,2e-11,3e-11,4e-11,5e-11,6e-11,7e-11,8e-11,9e-11,1e-10,2e-10,3e-10,4e-10,5e-10,6e-10,7e-10,8e-10,9e-10,1e-9,2e-9,3e-9,4e-9,5e-9,6e-9,7e-9,8e-9,9e-9,1e-8], "labels": false, "title": null,
    "tickSize": {"condition": {"test": "abs(log(datum.value)/LN10 - round(log(datum.value)/LN10)) < 0.01", "value": -6}, "value": -3}}},
  "text": {"field": "t"}
 }},
{"data": {"name": "ra"},
 "mark": {"type": "text", "align": "right", "baseline": "middle", "font": "Liberation Sans", "fontSize": 13, "color": "black"},
 "encoding": {
  "x": {"field": "x", "type": "quantitative", "scale": {"domain": [830, 1400], "nice": false, "zero": false}, "axis": null},
  "y": {"field": "y", "type": "quantitative", "scale": {"type": "log", "domain": [1e-14, 1e-8], "nice": false}, "axis": null},
  "text": {"field": "t"}
 }}
]
},
{
"width": 341, "height": 277,
"title": {"text": "(b)", "orient": "bottom", "anchor": "middle", "offset": 51, "dx": -46, "font": "Liberation Serif", "fontSize": 22, "fontWeight": "normal", "color": "black"},
"resolve": {"axis": {"x": "independent", "y": "independent"}},
"layer": [
{"data": {"name": "pb"},
 "mark": {"type": "line", "strokeWidth": 1.2, "clip": true},
 "encoding": {
  "x": {"field": "x", "type": "quantitative", "scale": {"domain": [835, 1500], "nice": false, "zero": false},
   "axis": {"orient": "bottom", "values": [850,900,950,1000,1050,1100,1150,1200,1250,1300,1350,1400,1450,1500], "labelExpr": "datum.value % 100 === 0 ? '' + datum.value : ''", "title": "Wavelength (nm)", "titleFont": "Liberation Serif", "titleFontSize": 12.5, "titleFontWeight": "normal", "labelFont": "Liberation Serif", "labelFontSize": 10.5, "tickSize": {"condition": {"test": "datum.value % 100 === 0", "value": -6}, "value": -3}, "labelPadding": 10, "titlePadding": 6}},
  "y": {"field": "y", "type": "quantitative", "scale": {"type": "log", "domain": [1e-14, 8.9e-10], "nice": false},
   "axis": {"orient": "left", "values": [1e-14,2e-14,3e-14,4e-14,5e-14,6e-14,7e-14,8e-14,9e-14,1e-13,2e-13,3e-13,4e-13,5e-13,6e-13,7e-13,8e-13,9e-13,1e-12,2e-12,3e-12,4e-12,5e-12,6e-12,7e-12,8e-12,9e-12,1e-11,2e-11,3e-11,4e-11,5e-11,6e-11,7e-11,8e-11,9e-11,1e-10,2e-10,3e-10,4e-10,5e-10,6e-10,7e-10,8e-10],
    "labelExpr": "abs(log(datum.value)/LN10 - round(log(datum.value)/LN10)) < 0.01 ? '1E' + round(log(datum.value)/LN10) : ''",
    "title": "P.L. (arb. units)", "titleFont": "Liberation Serif", "titleFontSize": 13, "titleFontWeight": "normal", "labelFont": "Liberation Serif", "labelFontSize": 10.5,
    "tickSize": {"condition": {"test": "abs(log(datum.value)/LN10 - round(log(datum.value)/LN10)) < 0.01", "value": -6}, "value": -3}, "labelPadding": 18, "titlePadding": 11}},
  "color": {"field": "s", "type": "nominal", "scale": {"domain": ["3.6 K","20 K","77 K","120 K","200 K","300 K"], "range": ["#000000","#ff0000","#00dd00","#0000ff","#00ffff","#ff00ff"]}, "legend": null},
  "detail": {"field": "g", "type": "nominal"}
 }},
{"data": {"name": "lb"},
 "mark": {"type": "text", "align": "left", "baseline": "middle", "font": "Liberation Sans", "fontSize": 13},
 "encoding": {
  "x": {"field": "x", "type": "quantitative", "scale": {"domain": [835, 1500], "nice": false, "zero": false}, "axis": null},
  "y": {"field": "y", "type": "quantitative", "scale": {"type": "log", "domain": [1e-14, 8.9e-10], "nice": false}, "axis": null},
  "text": {"field": "s"},
  "color": {"field": "s", "type": "nominal", "scale": {"domain": ["3.6 K","20 K","77 K","120 K","200 K","300 K"], "range": ["#000000","#ff0000","#00dd00","#0000ff","#00ffff","#ff00ff"]}, "legend": null}
 }},
{"data": {"name": "nb"},
 "mark": {"type": "text", "align": "left", "baseline": "middle", "font": "Liberation Sans", "fontSize": 13, "color": "black"},
 "encoding": {
  "x": {"field": "x", "type": "quantitative", "scale": {"domain": [835, 1500], "nice": false, "zero": false},
   "axis": {"orient": "top", "values": [850,900,950,1000,1050,1100,1150,1200,1250,1300,1350,1400,1450,1500], "labels": false, "title": null, "tickSize": {"condition": {"test": "datum.value % 100 === 0", "value": -6}, "value": -3}}},
  "y": {"field": "y", "type": "quantitative", "scale": {"type": "log", "domain": [1e-14, 8.9e-10], "nice": false},
   "axis": {"orient": "right", "values": [1e-14,2e-14,3e-14,4e-14,5e-14,6e-14,7e-14,8e-14,9e-14,1e-13,2e-13,3e-13,4e-13,5e-13,6e-13,7e-13,8e-13,9e-13,1e-12,2e-12,3e-12,4e-12,5e-12,6e-12,7e-12,8e-12,9e-12,1e-11,2e-11,3e-11,4e-11,5e-11,6e-11,7e-11,8e-11,9e-11,1e-10,2e-10,3e-10,4e-10,5e-10,6e-10,7e-10,8e-10], "labels": false, "title": null,
    "tickSize": {"condition": {"test": "abs(log(datum.value)/LN10 - round(log(datum.value)/LN10)) < 0.01", "value": -6}, "value": -3}}},
  "text": {"field": "t"}
 }},
{"data": {"name": "rb"},
 "mark": {"type": "text", "align": "right", "baseline": "middle", "font": "Liberation Sans", "fontSize": 13, "color": "black"},
 "encoding": {
  "x": {"field": "x", "type": "quantitative", "scale": {"domain": [835, 1500], "nice": false, "zero": false}, "axis": null},
  "y": {"field": "y", "type": "quantitative", "scale": {"type": "log", "domain": [1e-14, 8.9e-10], "nice": false}, "axis": null},
  "text": {"field": "t"}
 }}
]
}
]
}
